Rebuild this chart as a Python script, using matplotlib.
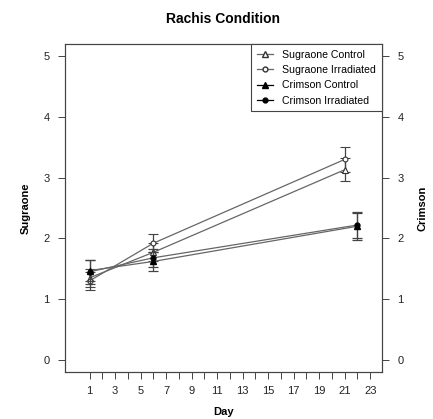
import matplotlib.pyplot as plt
from matplotlib.lines import Line2D

plt.rcParams['font.family'] = ['Liberation Sans', 'DejaVu Sans']

# data
sug_days = [1, 6, 21]
cri_days = [1, 6, 22]
sug_control = [1.35, 1.77, 3.13]
sug_control_err = [0.15, 0.15, 0.19]
sug_irrad = [1.30, 1.92, 3.30]
sug_irrad_err = [0.15, 0.15, 0.20]
cri_control = [1.47, 1.62, 2.20]
cri_control_err = [0.18, 0.16, 0.22]
cri_irrad = [1.45, 1.68, 2.22]
cri_irrad_err = [0.20, 0.15, 0.21]
x_ticks = list(range(1, 24))
y_ticks = [0, 1, 2, 3, 4, 5]

fig = plt.figure(figsize=(4.33, 4.19), dpi=100)
ax = fig.add_axes([65 / 433, 1 - 372 / 419, 317 / 433, 328 / 419])
ax2 = ax.twinx()

line_col = '#666666'
ekw = dict(color=line_col, lw=0.9, capsize=3.5, capthick=0.9, elinewidth=0.9, ecolor='#444444')

ax.errorbar(sug_days, sug_control, yerr=sug_control_err, marker='^', ms=4.5,
            mfc='white', mec='#333333', mew=0.8, **ekw)
ax.errorbar(sug_days, sug_irrad, yerr=sug_irrad_err, marker='o', ms=3.5,
            mfc='white', mec='#333333', mew=0.8, **ekw)
ax2.errorbar(cri_days, cri_control, yerr=cri_control_err, marker='^', ms=4.5,
             mfc='black', mec='black', **ekw)
ax2.errorbar(cri_days, cri_irrad, yerr=cri_irrad_err, marker='o', ms=3.5,
             mfc='black', mec='black', **ekw)

for a in (ax, ax2):
    a.set_xlim(-0.92, 23.92)
    a.set_ylim(-0.2, 5.2)
    a.set_yticks(y_ticks)
    a.tick_params(labelsize=8, length=5, width=0.7, color='#444444',
                  labelcolor='#222222', pad=6)
    for s in a.spines.values():
        s.set_linewidth(0.8)
        s.set_color('#444444')

ax.set_xticks(x_ticks)
ax.set_xticklabels([str(d) if d % 2 == 1 else '' for d in x_ticks])
ax.tick_params(axis='x', pad=5)

ax.set_ylabel('Sugraone', fontsize=8, fontweight='bold', labelpad=9)
ax2.set_ylabel('Crimson', fontsize=8, fontweight='bold', labelpad=10)
ax.set_xlabel('Day', fontsize=8, fontweight='bold', labelpad=8)
ax.set_title('Rachis Condition', fontsize=10, fontweight='bold', pad=15)

handles = [
    Line2D([], [], color=line_col, lw=0.9, marker='^', ms=4.5, mfc='white', mec='#333333'),
    Line2D([], [], color=line_col, lw=0.9, marker='o', ms=3.5, mfc='white', mec='#333333'),
    Line2D([], [], color='black', lw=0.9, marker='^', ms=4.5, mfc='black', mec='black'),
    Line2D([], [], color='black', lw=0.9, marker='o', ms=3.5, mfc='black', mec='black'),
]
labels = ['Sugraone Control', 'Sugraone Irradiated', 'Crimson Control', 'Crimson Irradiated']
leg = ax2.legend(handles, labels, loc='upper right', fontsize=7.6, fancybox=False,
                 framealpha=1, edgecolor='#444444', borderpad=0.55, labelspacing=0.5,
                 handlelength=1.5, handletextpad=0.9, borderaxespad=0)
leg.get_frame().set_linewidth(0.8)

fig.savefig('out.png', dpi=100)
